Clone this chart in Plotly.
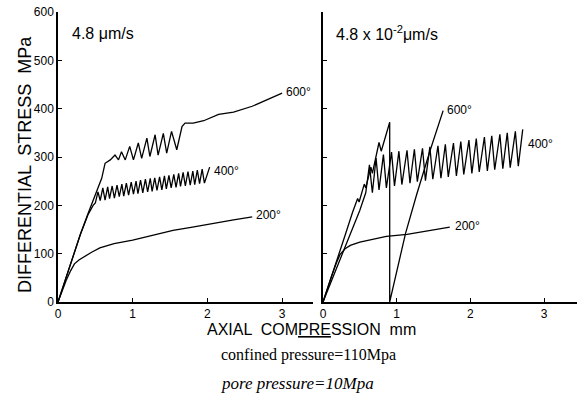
import plotly.graph_objects as go

# ---------------- data ----------------
x_ticks = [0, 1, 2, 3]
y_ticks = [0, 100, 200, 300, 400, 500, 600]

# Left panel: 4.8 um/s
left_200_x = [0, 0.05, 0.11, 0.17, 0.22, 0.28, 0.34, 0.45, 0.56, 0.75, 1.0, 1.25, 1.54, 1.8, 2.08, 2.35, 2.6]
left_200_y = [0, 22, 45, 65, 79, 87, 93, 103, 112, 121, 128, 137, 148, 155, 163, 170, 176]

left_400_x = [0, 0.1, 0.2, 0.3, 0.4, 0.47, 0.50,
              0.535, 0.565, 0.60, 0.63, 0.665, 0.69, 0.725, 0.755, 0.79, 0.82,
              0.855, 0.88, 0.915, 0.945, 0.98, 1.01, 1.045, 1.07, 1.105, 1.135,
              1.17, 1.20, 1.235, 1.26, 1.295, 1.325, 1.36, 1.39, 1.425, 1.45,
              1.485, 1.515, 1.55, 1.58, 1.615, 1.64, 1.675, 1.705, 1.74, 1.77,
              1.805, 1.83, 1.865, 1.895, 1.93, 1.96, 2.03]
left_400_y = [0, 48, 95, 140, 180, 200, 205,
              228, 210, 236, 211, 238, 214, 240, 215, 242, 218,
              244, 219, 246, 221, 248, 223, 250, 224, 252, 226,
              254, 228, 256, 229, 257, 231, 259, 232, 261, 234,
              262, 236, 264, 237, 266, 239, 268, 240, 270, 242,
              271, 243, 273, 245, 275, 246, 279]

left_600_x = [0, 0.1, 0.2, 0.3, 0.4, 0.5, 0.585, 0.63, 0.70, 0.763, 0.81, 0.85, 0.90,
              0.96, 1.01, 1.075, 1.12, 1.19, 1.23, 1.30, 1.34, 1.41, 1.455, 1.52,
              1.59, 1.66, 1.70, 1.81, 1.95, 2.15, 2.35, 2.6, 2.8, 3.0]
left_600_y = [0, 48, 95, 140, 182, 222, 256, 287, 294, 304, 294, 311, 294,
              322, 294, 329, 297, 339, 301, 346, 304, 349, 308, 353,
              315, 363, 370, 370, 375, 388, 393, 405, 418, 432]

# Right panel: 4.8 x 10^-2 um/s
right_200_x = [0, 0.05, 0.12, 0.18, 0.23, 0.3, 0.37, 0.5, 0.7, 0.86, 1.14, 1.4, 1.72]
right_200_y = [0, 25, 55, 80, 98, 110, 117, 124, 130, 136, 140, 147, 155]

right_400_x = [0, 0.1, 0.2, 0.3, 0.4, 0.5, 0.58,
               0.63, 0.67, 0.72, 0.76, 0.82, 0.86, 0.93, 0.97, 1.03, 1.07,
               1.14, 1.18, 1.24, 1.28, 1.35, 1.39, 1.45, 1.49, 1.56, 1.60,
               1.66, 1.70, 1.77, 1.81, 1.87, 1.91, 1.98, 2.02, 2.08, 2.12,
               2.19, 2.23, 2.29, 2.33, 2.40, 2.44, 2.50, 2.54, 2.61, 2.65, 2.71]
right_400_y = [0, 38, 72, 110, 150, 190, 226,
               284, 226, 298, 232, 305, 236, 310, 240, 312, 243,
               314, 246, 316, 249, 318, 251, 321, 254, 323, 256,
               326, 259, 329, 261, 332, 264, 335, 266, 338, 269,
               341, 271, 344, 274, 347, 276, 350, 278, 353, 281, 357]

right_600_x = [0, 0.1, 0.2, 0.3, 0.4, 0.47, 0.49, 0.56, 0.58, 0.65, 0.67, 0.76, 0.79,
               0.905, 0.905, 0.95, 1.0, 1.12, 1.27, 1.45, 1.63]
right_600_y = [0, 45, 92, 138, 185, 214, 207, 244, 236, 279, 266, 330, 312,
               372, 0, 30, 62, 142, 222, 312, 396]

curve_labels = ["200°", "400°", "600°"]

# ---------------- figure ----------------
W, H = 585, 395
line = dict(color="black", width=1.3)

fig = go.Figure()
for xs, ys in [(left_200_x, left_200_y), (left_400_x, left_400_y), (left_600_x, left_600_y)]:
    fig.add_trace(go.Scatter(x=xs, y=ys, mode="lines", line=line, xaxis="x", yaxis="y",
                             showlegend=False, hoverinfo="skip"))
for xs, ys in [(right_200_x, right_200_y), (right_400_x, right_400_y), (right_600_x, right_600_y)]:
    fig.add_trace(go.Scatter(x=xs, y=ys, mode="lines", line=line, xaxis="x2", yaxis="y2",
                             showlegend=False, hoverinfo="skip"))

def px(x):
    return x / W

def py(y):
    return 1 - y / H

tickfont = dict(family="Liberation Sans, Arial, sans-serif", size=12, color="black")
ax_common = dict(showline=True, linecolor="black", linewidth=1.5, showgrid=False,
                 zeroline=False, ticks="inside", ticklen=4, tickcolor="black",
                 tickwidth=1.2, tickfont=tickfont, automargin=False)

fig.update_layout(
    width=W, height=H,
    margin=dict(l=0, r=0, t=0, b=0, pad=0),
    paper_bgcolor="white", plot_bgcolor="white",
    hovermode=False,
    xaxis=dict(domain=[px(58), px(313)], range=[0, 255 / 74.7], tickvals=x_ticks,
               anchor="y", **ax_common),
    yaxis=dict(domain=[py(302), py(12)], range=[0, 600], tickvals=y_ticks,
               anchor="x", **ax_common),
    xaxis2=dict(domain=[px(323), px(577)], range=[0, 254 / 73.7], tickvals=x_ticks,
                anchor="y2", **ax_common),
    yaxis2=dict(domain=[py(302), py(12)], range=[0, 600], tickvals=y_ticks,
                showticklabels=False, anchor="x2", **ax_common),
)

sans = "Liberation Sans, Arial, sans-serif"
serif = "Liberation Serif, Times New Roman, serif"
ann = []
lab_font = dict(family=sans, size=12, color="black")
# curve labels (data coordinates)
ann += [
    dict(x=2.62, y=180, xref="x", yref="y", text=curve_labels[0], xanchor="left", font=lab_font),
    dict(x=2.06, y=272, xref="x", yref="y", text=curve_labels[1], xanchor="left", font=lab_font),
    dict(x=3.03, y=434, xref="x", yref="y", text=curve_labels[2], xanchor="left", font=lab_font),
    dict(x=1.76, y=158, xref="x2", yref="y2", text=curve_labels[0], xanchor="left", font=lab_font),
    dict(x=2.75, y=326, xref="x2", yref="y2", text=curve_labels[1], xanchor="left", font=lab_font),
    dict(x=1.66, y=398, xref="x2", yref="y2", text=curve_labels[2], xanchor="left", font=lab_font),
]
# panel titles
ann += [
    dict(x=px(70), y=py(33), xref="paper", yref="paper", text="4.8 μm/s",
         xanchor="left", yanchor="middle", font=dict(family=sans, size=16, color="black")),
    dict(x=px(334), y=py(33), xref="paper", yref="paper", text="4.8 x 10<sup>-2</sup>μm/s",
         xanchor="left", yanchor="middle", font=dict(family=sans, size=16, color="black")),
]
# axis titles and notes
ann += [
    dict(x=px(25), y=py(165), xref="paper", yref="paper", text="DIFFERENTIAL  STRESS  MPa",
         textangle=-90, xanchor="center", yanchor="middle",
         font=dict(family=sans, size=18, color="black")),
    dict(x=px(311), y=py(329), xref="paper", yref="paper",
         text="AXIAL  COM<u>PRE</u>SSION  mm", xanchor="center", yanchor="middle",
         font=dict(family=sans, size=16, color="black")),
    dict(x=px(219), y=py(355), xref="paper", yref="paper",
         text="confined pressure=110Mpa", xanchor="left", yanchor="middle",
         font=dict(family=serif, size=16, color="black")),
    dict(x=px(219), y=py(383), xref="paper", yref="paper",
         text="pore pressure=10Mpa", xanchor="left", yanchor="middle",
         font=dict(family=serif, size=17, color="black", style="italic")),
]
for a in ann:
    a["showarrow"] = False
fig.update_layout(annotations=ann)

fig.write_html("out.html", config={"displayModeBar": False},
               post_script="document.body.style.margin='0';")
